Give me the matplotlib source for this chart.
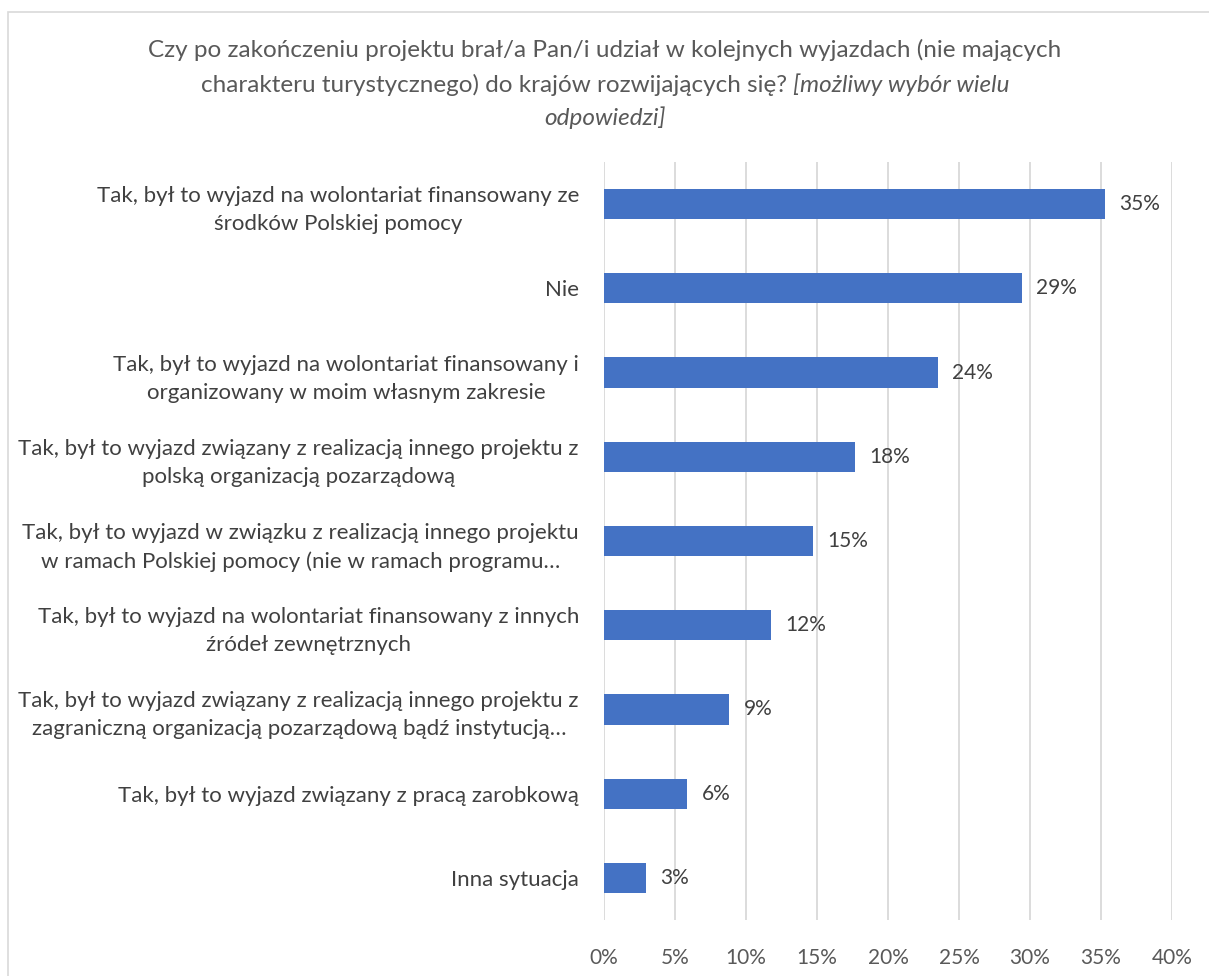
import matplotlib.pyplot as plt
from matplotlib.patches import Rectangle

plt.rcParams['font.family'] = ['Lato', 'DejaVu Sans']

# dane (n = 34)
kategorie = [
    "Tak, był to wyjazd na wolontariat finansowany ze\nśrodków Polskiej pomocy",
    "Nie",
    "Tak, był to wyjazd na wolontariat finansowany i\norganizowany w moim własnym zakresie",
    "Tak, był to wyjazd związany z realizacją innego projektu z\npolską organizacją pozarządową",
    "Tak, był to wyjazd w związku z realizacją innego projektu\nw ramach Polskiej pomocy (nie w ramach programu…",
    "Tak, był to wyjazd na wolontariat finansowany z innych\nźródeł zewnętrznych",
    "Tak, był to wyjazd związany z realizacją innego projektu z\nzagraniczną organizacją pozarządową bądź instytucją…",
    "Tak, był to wyjazd związany z pracą zarobkową",
    "Inna sytuacja",
]
wartosci = [35.29, 29.41, 23.53, 17.65, 14.71, 11.76, 8.82, 5.88, 2.94]
etykiety = ["35%", "29%", "24%", "18%", "15%", "12%", "9%", "6%", "3%"]
ticki = [0, 5, 10, 15, 20, 25, 30, 35, 40]

W, H = 1209, 976
FS_T = 17.5
fig = plt.figure(figsize=(W / 100, H / 100), dpi=100)
fig.patch.set_facecolor('white')

# ramka wykresu
fig.add_artist(Rectangle((8 / W, -0.05), 1.1, 1 - 12 / H + 0.05, transform=fig.transFigure,
                         fill=False, edgecolor='#d9d9d9', linewidth=1.2))

ax = fig.add_axes([604 / W, 1 - 920 / H, (1172 - 604) / W, (920 - 162) / H])

y = list(range(len(kategorie)))
ax.barh(y, wartosci, height=0.36, color='#4472c4', zorder=3)
for yi, v, lab in zip(y, wartosci, etykiety):
    ax.text(v + 1.0, yi, lab, va='center', ha='left', fontsize=15, color='#404040')

ax.set_ylim(len(kategorie) - 0.5, -0.5)
ax.set_xlim(0, 40)
ax.set_xticks(ticks=ticki, labels=[f"{t}%" for t in ticki])
ax.set_yticks(y)
ax.set_yticklabels(kategorie, fontsize=16, color='#404040', multialignment='center',
                   linespacing=1.5)
ax.tick_params(axis='x', labelsize=15, labelcolor='#595959', length=0, pad=20)
ax.tick_params(axis='y', length=0, pad=18)
ax.grid(axis='x', color='#d9d9d9', linewidth=1.3, zorder=0)
for s in ax.spines.values():
    s.set_visible(False)

fig.text(605 / W, 1 - 50 / H,
         "Czy po zakończeniu projektu brał/a Pan/i udział w kolejnych wyjazdach (nie mających",
         ha='center', va='center', fontsize=FS_T, color='#595959')
t1 = "charakteru turystycznego) do krajów rozwijających się? "
t2 = "[możliwy wybór wielu"
r = fig.canvas.get_renderer()
a = fig.text(0, 0, t1, fontsize=FS_T)
b = fig.text(0, 0, t2, fontsize=FS_T, style='italic')
w1 = a.get_window_extent(r).width
w2 = b.get_window_extent(r).width
a.remove()
b.remove()
x0 = 605 - (w1 + w2) / 2
fig.text(x0 / W, 1 - 85 / H, t1, ha='left', va='center', fontsize=FS_T, color='#595959')
fig.text((x0 + w1) / W, 1 - 85 / H, t2, ha='left', va='center', fontsize=FS_T,
         color='#595959', style='italic')
fig.text(605 / W, 1 - 118 / H, "odpowiedzi]", ha='center', va='center', fontsize=FS_T,
         color='#595959', style='italic')

fig.savefig('out.png', dpi=100)
